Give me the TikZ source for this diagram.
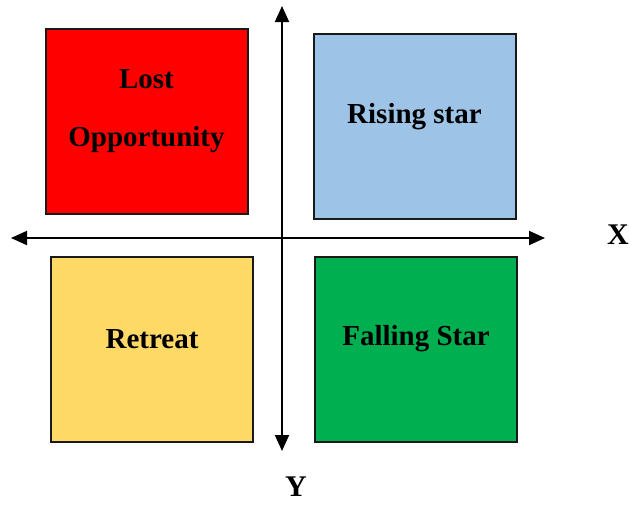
\documentclass[tikz,border=0pt]{standalone}
\usepackage{fontspec}
\setmainfont{Liberation Serif}
\usetikzlibrary{arrows.meta}
\definecolor{cred}{HTML}{FF0000}
\definecolor{cblue}{HTML}{9DC3E6}
\definecolor{cyellow}{HTML}{FFD966}
\definecolor{cgreen}{HTML}{00B050}
\tikzset{
  quad/.style={draw=black!90, line width=2pt, minimum width=202pt, minimum height=185pt, inner sep=0pt, anchor=north west},
  qtext/.style={font=\fontsize{29}{58}\selectfont\bfseries, align=center, inner sep=0pt},
  axis/.style={line width=2pt, {Triangle[length=16pt,width=14pt]}-{Triangle[length=16pt,width=14pt]}},
  axlabel/.style={font=\fontsize{30}{30}\selectfont\bfseries, inner sep=0pt}
}
\begin{document}
\begin{tikzpicture}[x=1pt,y=-1pt]
\useasboundingbox (0,0) rectangle (629,504);
\node[quad, fill=cred] (red) at (44.5,27.5) {};
\node[quad, fill=cblue] (blue) at (312.5,33) {};
\node[quad, fill=cyellow] (yellow) at (50,255.5) {};
\node[quad, fill=cgreen] (green) at (314,255.5) {};
\node[qtext] (tred) at ([yshift=10pt]red.center) {Lost\\Opportunity};
\node[qtext] (tblue) at ([yshift=10pt]blue.center) {Rising star};
\node[qtext] (tyellow) at ([yshift=10pt]yellow.center) {Retreat};
\node[qtext] (tgreen) at ([yshift=10pt]green.center) {Falling Star};
\coordinate (xl) at (11,238);
\coordinate (xr) at (545,238);
\coordinate (yt) at (282,6);
\coordinate (yb) at (282,451);
\draw[axis] (xl) -- (xr);
\draw[axis] (yt) -- (yb);
\node[axlabel] (X) at (618,235) {X};
\node[axlabel] (Y) at (296,487) {Y};
\end{tikzpicture}
\end{document}
